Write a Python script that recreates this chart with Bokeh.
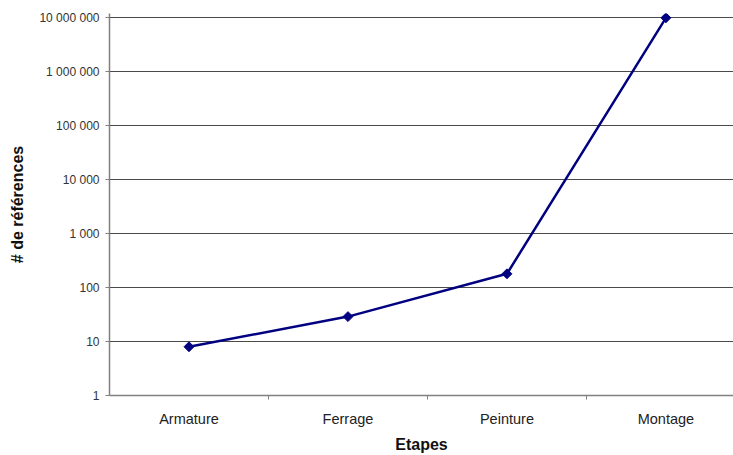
import math
from bokeh.plotting import figure
from bokeh.models import FixedTicker, Range1d
from bokeh.embed import file_html
from bokeh.resources import INLINE

categories = ["Armature", "Ferrage", "Peinture", "Montage"]
values = [8, 29, 180, 10000000]
ytick_values = [1, 10, 100, 1000, 10000, 100000, 1000000, 10000000]
ytick_labels = ["1", "10", "100", "1 000", "10 000", "100 000", "1 000 000", "10 000 000"]

xs = [i + 0.5 for i in range(len(categories))]

p = figure(width=733, height=455, y_axis_type="log",
           x_range=Range1d(0, 3.925), y_range=Range1d(1, 10 ** 7.08),
           output_backend="svg", toolbar_location=None,
           min_border_left=109, min_border_top=13, min_border_bottom=60, min_border_right=0)
p.outline_line_color = None
p.background_fill_color = "white"

p.line(xs, values, line_color="#000080", line_width=2.5)
p.scatter(xs, values, marker="square", size=7, angle=math.pi / 4,
          fill_color="#000080", line_color="#000080")

# x axis
p.xaxis.ticker = FixedTicker(ticks=xs, minor_ticks=[1, 2, 3])
p.xaxis.major_label_overrides = {x: c for x, c in zip(xs, categories)}
p.xaxis.major_tick_out = 0
p.xaxis.major_tick_in = 0
p.xaxis.minor_tick_out = 4
p.xaxis.minor_tick_in = 0
p.xaxis.minor_tick_line_color = "#808080"
p.xaxis.axis_line_color = "#808080"
p.xaxis.axis_line_width = 1.5
p.xaxis.major_label_text_font = "Liberation Sans"
p.xaxis.major_label_text_font_size = "14.5px"
p.xaxis.major_label_text_color = "#222222"
p.xaxis.major_label_standoff = 11
p.xaxis.axis_label = "Etapes"
p.xaxis.axis_label_text_font = "Liberation Sans"
p.xaxis.axis_label_text_font_style = "bold"
p.xaxis.axis_label_text_font_size = "16px"
p.xaxis.axis_label_text_color = "#111111"
p.xaxis.axis_label_standoff = 6
p.xgrid.grid_line_color = None

# y axis
p.yaxis.ticker = FixedTicker(ticks=ytick_values, minor_ticks=[])
p.yaxis.major_label_overrides = {v: l for v, l in zip(ytick_values, ytick_labels)}
p.yaxis.major_tick_out = 4
p.yaxis.major_tick_in = 0
p.yaxis.major_tick_line_color = "#808080"
p.yaxis.axis_line_color = "#808080"
p.yaxis.axis_line_width = 1.5
p.yaxis.major_label_text_font = "Liberation Sans"
p.yaxis.major_label_text_font_size = "12px"
p.yaxis.major_label_text_color = "#333333"
p.yaxis.major_label_standoff = 6
p.yaxis.axis_label = "# de références"
p.yaxis.axis_label_text_font = "Liberation Sans"
p.yaxis.axis_label_text_font_style = "bold"
p.yaxis.axis_label_text_font_size = "16px"
p.yaxis.axis_label_text_color = "#111111"
p.yaxis.axis_label_standoff = 10
p.ygrid.grid_line_color = "#4a4a4a"
p.ygrid.grid_line_width = 1

open("out.html", "w").write(file_html(p, INLINE))
